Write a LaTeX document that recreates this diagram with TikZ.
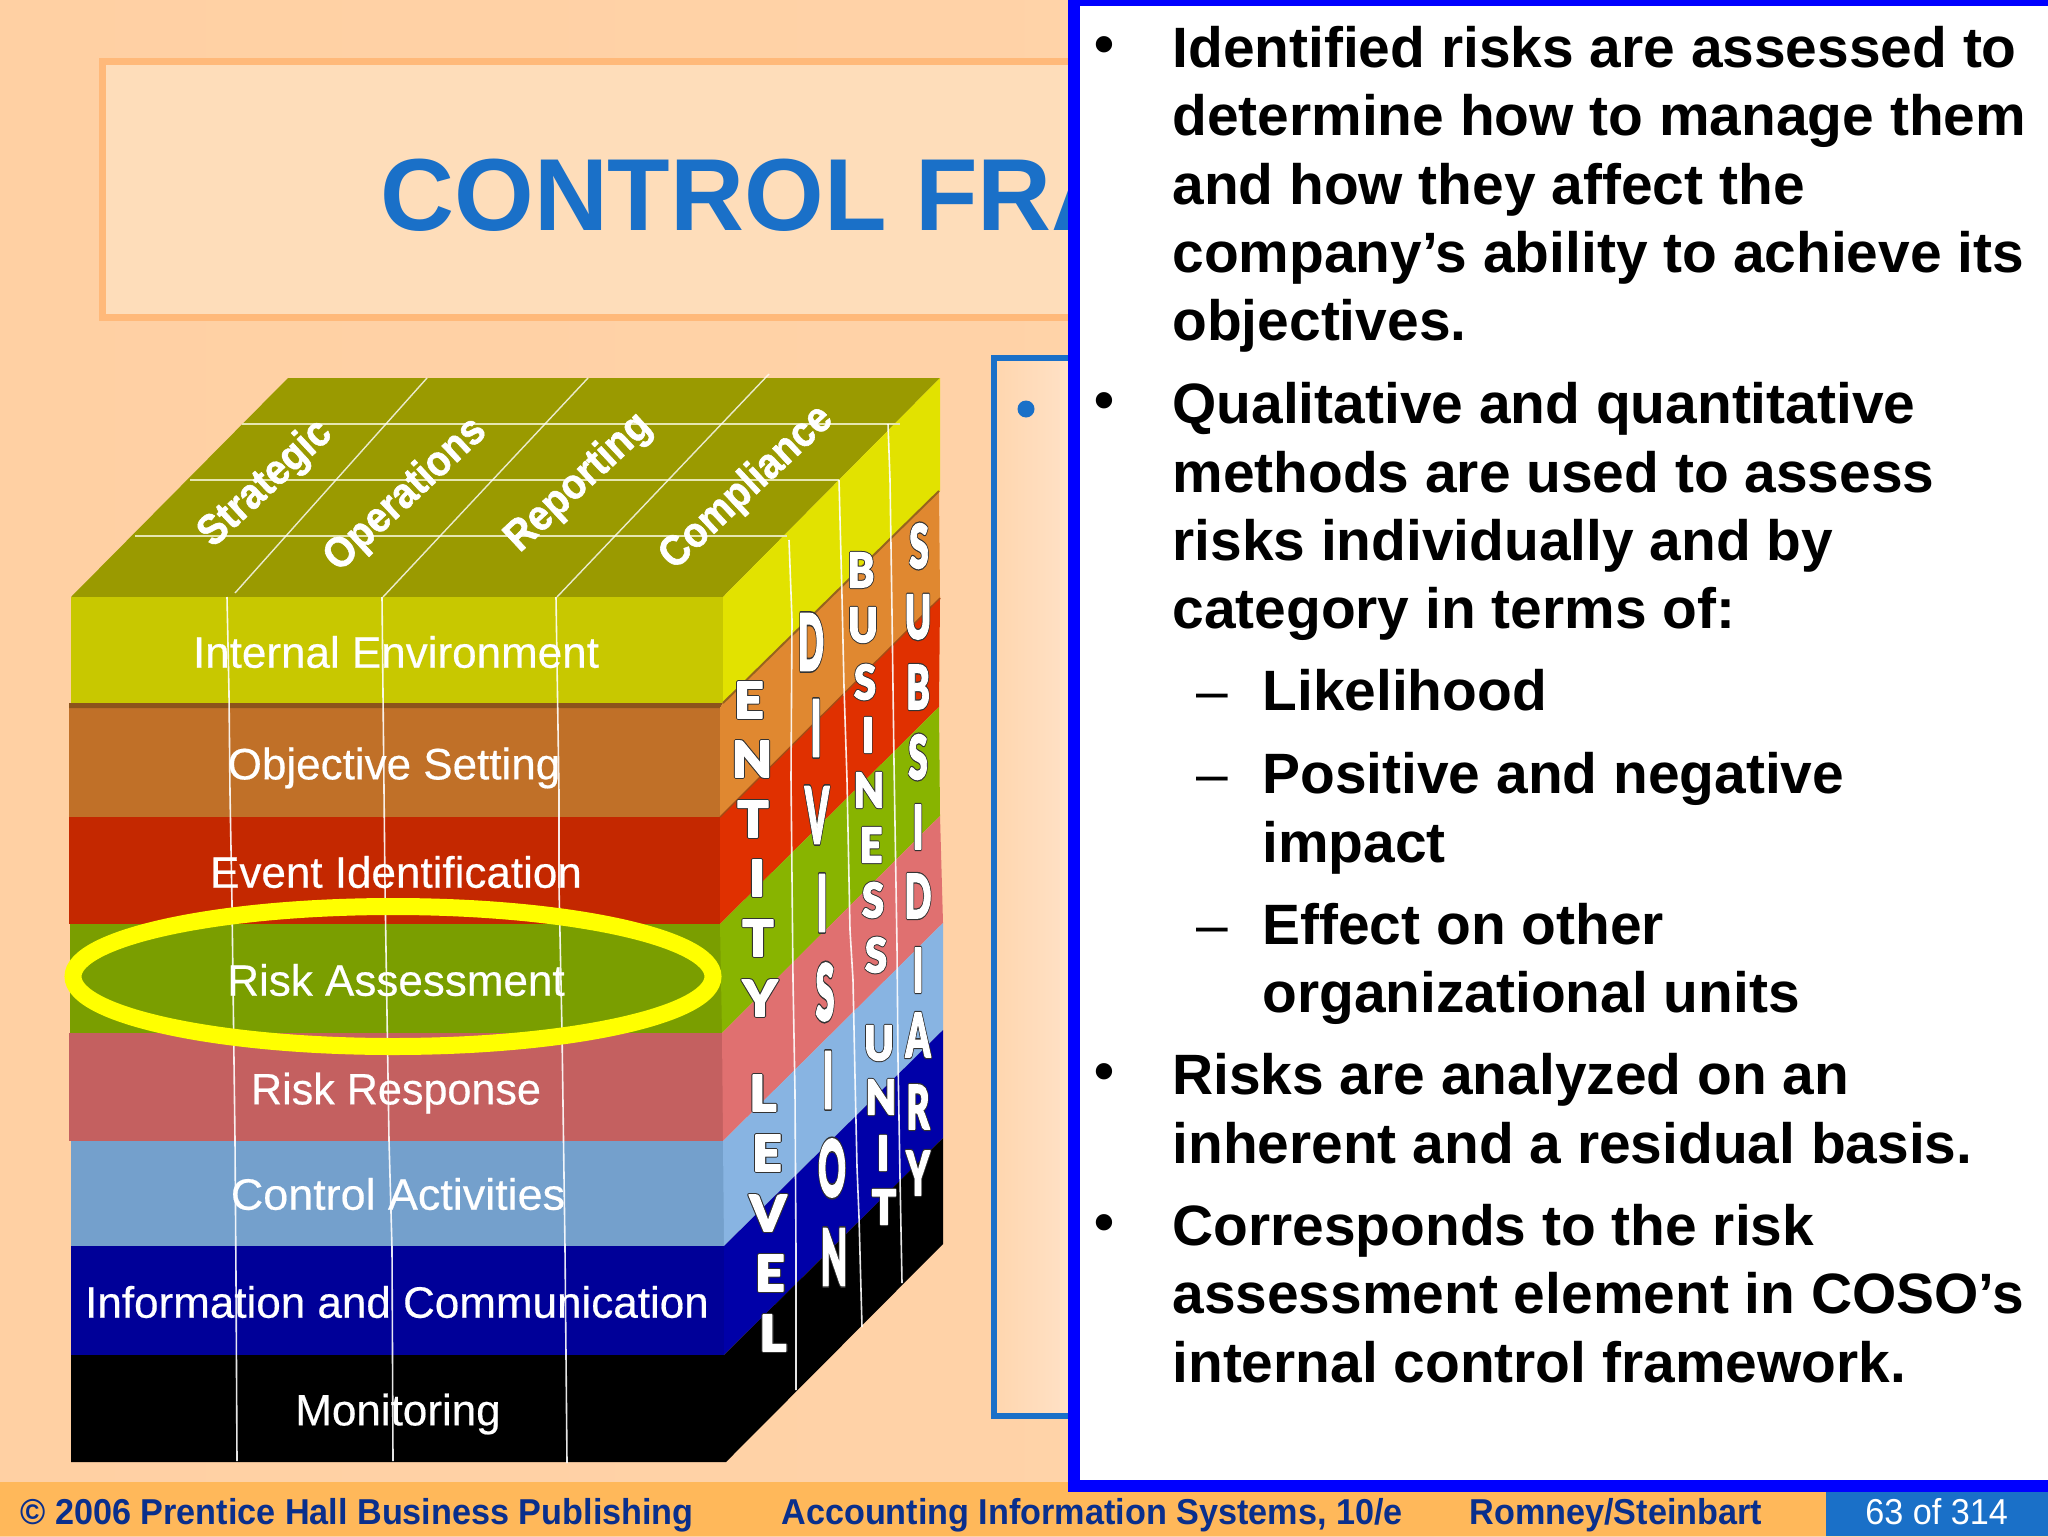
\documentclass[tikz,border=0pt]{standalone}
\usepackage{graphicx}
\usepackage{fontspec}
\setmainfont{Liberation Sans}
\newfontfamily\bandfont[FakeBold=0.4]{Liberation Sans}
\newfontfamily\letterfont{Lato Black}
\newcommand{\stroked}[1]{\rlap{\special{pdf:code 1 Tr 1.3 w 0.2 0.2 0.2 RG 1 j}#1\special{pdf:code 0 Tr}}\special{pdf:code 2 Tr 0.45 w 1 1 1 RG 1 j}#1\special{pdf:code 0 Tr}}
\newcommand{\glow}[1]{\special{pdf:code 2 Tr 0.3 w 1 1 1 RG 1 j}#1\special{pdf:code 0 Tr}}
\definecolor{bgl}{HTML}{FFD0A3}
\definecolor{bgr}{HTML}{FFD5AC}
\definecolor{titlefill}{HTML}{FEDDBA}
\definecolor{titleedge}{HTML}{FFB97A}
\definecolor{slideblue}{HTML}{1A70C8}
\definecolor{footbar}{HTML}{FFB85A}
\definecolor{foottext}{HTML}{0A2F8C}
\definecolor{topface}{HTML}{9A9A00}
\definecolor{gridc}{HTML}{E6E6B0}
\definecolor{yelF}{HTML}{C8C800}
\definecolor{yelS}{HTML}{E2E200}
\definecolor{oraF}{HTML}{C07028}
\definecolor{oraS}{HTML}{E08830}
\definecolor{oraD}{HTML}{8C541C}
\definecolor{oraL}{HTML}{96641E}
\definecolor{redF}{HTML}{C42800}
\definecolor{redS}{HTML}{E03000}
\definecolor{redL}{HTML}{A54B14}
\definecolor{grnF}{HTML}{7A9E00}
\definecolor{grnS}{HTML}{88B400}
\definecolor{pnkF}{HTML}{C46060}
\definecolor{pnkS}{HTML}{E07070}
\definecolor{bluF}{HTML}{74A0CC}
\definecolor{bluS}{HTML}{88B4E2}
\definecolor{navF}{HTML}{000098}
\definecolor{navS}{HTML}{0000A8}
\definecolor{hilite}{HTML}{FFFF00}
\definecolor{panelb}{HTML}{0000FF}
\definecolor{boxl}{HTML}{FFD6AE}
\definecolor{boxr}{HTML}{FFE2C8}
\tikzset{
  bodyline/.style={anchor=base west,inner sep=0pt,font=\bfseries\fontsize{28.45}{30}\selectfont,text=black},
  dashline/.style={anchor=base west,inner sep=0pt,font=\fontsize{28.45}{30}\selectfont,text=black},
  bandlabel/.style={inner sep=0pt,text=white,font=\bandfont\fontsize{22}{24}\selectfont},
  toplabel/.style={inner sep=0pt,text=white,rotate=43,font=\bfseries\fontsize{21}{24}\selectfont},
  footlabel/.style={anchor=base west,inner sep=0pt,text=foottext,font=\bfseries\fontsize{18}{20}\selectfont},
  letter/.style={inner sep=0pt,text=white,font=\letterfont\fontsize{20}{22}\selectfont},
  frontline/.style={draw=white,line width=0.8pt,opacity=.9},
  gridline/.style={draw=gridc,line width=1.3pt},
}
\begin{document}
\begin{tikzpicture}[x=0.5pt,y=-0.5pt]
\useasboundingbox (0,0) rectangle (2048,1536);
% background
\shade[left color=bgl,right color=bgr] (0,0) rectangle (2048,1536);
% title box
\path[fill=titlefill,draw=titleedge,line width=3.5pt] (102.5,61.5) rectangle (1200,317.5);
\node[anchor=base west,inner sep=0pt,text=slideblue,font=\bfseries\fontsize{51.2}{54}\selectfont] (title) at (380,230) {CONTROL FRA};
% second box
\shade[left color=boxl,right color=boxr] (994,358) rectangle (1075,1416);
\draw[draw=slideblue,line width=3.3pt] (994,358) rectangle (1200,1416);
\node[circle,fill=slideblue,inner sep=0pt,minimum size=8.5pt] (bluebullet) at (1026,409) {};
% top face
\fill[topface] (288,378) -- (940,378) -- (723,597) -- (71,597) -- cycle;
% bands: front then side
\fill[yelF] (71,597) -- (723,597) -- (723,703) -- (71,703) -- cycle;
\fill[yelS] (723,597) -- (940,378) -- (940,491) -- (723,703) -- cycle;
\fill[oraF] (69,707) -- (720,707) -- (720,817) -- (69,817) -- cycle;
\fill[oraD] (69,703) -- (723,703) -- (720,708) -- (69,708) -- cycle;
\fill[oraS] (720,708) -- (723,703) -- (939,491) -- (940,598) -- (720,817) -- cycle;
\draw[draw=oraL,line width=1pt] (723,703) -- (939,491);
\fill[redF] (69,817) -- (720,817) -- (720,924) -- (69,924) -- cycle;
\fill[redS] (720,817) -- (940,598) -- (939,707) -- (720,924) -- cycle;
\draw[draw=redL,line width=.7pt] (720,817) -- (940,598);
\fill[grnF] (70,924) -- (722,924) -- (722,1033) -- (70,1033) -- cycle;
\fill[grnS] (720,924) -- (939,707) -- (940,816) -- (722,1033) -- cycle;
\fill[pnkF] (69,1033) -- (723,1033) -- (723,1141) -- (69,1141) -- cycle;
\fill[pnkS] (722,1033) -- (940,816) -- (943,923) -- (723,1141) -- cycle;
\fill[bluF] (71,1141) -- (724,1141) -- (724,1246) -- (71,1246) -- cycle;
\fill[bluS] (723,1141) -- (943,923) -- (943,1030) -- (724,1246) -- cycle;
\fill[navF] (71,1246) -- (724,1246) -- (724,1355) -- (71,1355) -- cycle;
\fill[navS] (724,1246) -- (943,1030) -- (943,1138) -- (724,1355) -- cycle;
\fill[black] (71,1355) -- (724,1355) -- (943,1138) -- (943,1244) -- (726,1462) -- (71,1462) -- cycle;
% top grid
\draw[gridline] (135,536) -- (787,536);
\draw[gridline] (190,480) -- (839,480);
\draw[gridline] (242,424) -- (900,424);
\draw[draw=white,line width=.7pt,opacity=.8] (235,593) -- (427,378);
\draw[draw=white,line width=.7pt,opacity=.8] (383,597) -- (588,378);
\draw[draw=white,line width=.7pt,opacity=.8] (557,597) -- (769,374);
% top labels
\node[toplabel] (strategic) at (266,484) {\scalebox{.92}[1.02]{\glow{Strategic}}};
\node[toplabel] (operations) at (406,495) {\scalebox{.92}[1.02]{\glow{Operations}}};
\node[toplabel] (reporting) at (579,483) {\scalebox{.92}[1.02]{\glow{Reporting}}};
\node[toplabel] (compliance) at (747,488) {\scalebox{.92}[1.02]{\glow{Compliance}}};
% band labels
\node[bandlabel] (ie) at (396,652) {Internal Environment};
\node[bandlabel] (os) at (394,768) {Objective Setting};
\node[bandlabel] (ei) at (396,872) {Event Identification};
\node[bandlabel] (ra) at (396,980) {Risk Assessment};
\node[bandlabel] (rr) at (396,1093) {\scalebox{.98}[1]{Risk Response}};
\node[bandlabel] (ca) at (398,1194) {\scalebox{1.02}[1]{Control Activities}};
\node[bandlabel] (ic) at (397,1302) {Information and Communication};
\node[bandlabel] (mo) at (398,1414) {Monitoring};
% front verticals
\draw[frontline] (227,597) -- (229,693) -- (230,793) -- (232,903) -- (235,1140) -- (236,1278) -- (237,1461);
\draw[frontline] (382,597) -- (385,886) -- (389,1140) -- (392,1248) -- (393,1461);
\draw[frontline] (556,597) -- (559,793) -- (559,886) -- (562,1032) -- (565,1248) -- (567,1463);
% side verticals
\draw[frontline] (789,540) -- (792,620) -- (791,777) -- (793,980) -- (795,1093) -- (796,1253) -- (796,1390);
\draw[frontline] (839,480) -- (842,597) -- (844,687) -- (847,780) -- (850,930) -- (853,980) -- (855,1077) -- (857,1167) -- (859,1217) -- (862,1327);
\draw[frontline] (888,424) -- (890,480) -- (892,613) -- (894,763) -- (897,947) -- (898,1060) -- (900,1177) -- (902,1283);
% side letters
\foreach \x/\y/\t [count=\i] in {749/700/E,752/759/N,753/819/T,757/878/I,758/938/T,760/998/Y,763/1093/L,767/1153/E,768/1213/V,770/1273/E,773/1333/L}
  \node[letter] (ent\i) at (\x,\y) {\scalebox{1.3}[1.25]{\stroked{\t}}};
\foreach \x/\y/\t [count=\i] in {811/642/D,816/728/I,817/815/V,822/903/I,825/992/S,828/1080/I,832/1168/O,834/1257/N}
  \node[letter] (div\i) at (\x,\y) {\scalebox{.85}[1.95]{\stroked{\t}}};
\foreach \x/\y/\t [count=\i] in {861/570/B,863/625/U,865/682/S,868/735/I,869/790/N,871/845/E,873/900/S,876/955/S,879/1043/U,881/1097/N,883/1153/I,884/1207/T}
  \node[letter] (bus\i) at (\x,\y) {\scalebox{1}[1.2]{\stroked{\t}}};
\foreach \x/\y/\t [count=\i] in {919/546/S,918/617/U,918/687/B,918/757/S,918/827/I,918/896/D,918/970/I,918/1035/A,918/1107/R,918/1173/Y}
  \node[letter] (sub\i) at (\x,\y) {\scalebox{.88}[1.52]{\stroked{\t}}};
% highlight ellipse
\draw[draw=hilite,line width=8.5pt] (393,976.5) ellipse [x radius=320,y radius=70];
% footer
\fill[footbar] (0,1482) rectangle (2048,1536);
\fill[slideblue] (1826,1485) rectangle (2048,1536);
\node[footlabel] (f1) at (20,1524) {\scalebox{.95}[1]{© 2006 Prentice Hall Business Publishing}};
\node[footlabel] (f2) at (781,1524) {\scalebox{.95}[1]{Accounting Information Systems, 10/e}};
\node[footlabel] (f3) at (1469,1524) {\scalebox{.95}[1]{Romney/Steinbart}};
\node[anchor=base west,inner sep=0pt,text=white,font=\fontsize{18}{20}\selectfont] (f4) at (1865,1524) {\scalebox{.95}[1]{63 of 314}};
% white panel
\path[fill=white,draw=panelb,line width=6pt] (1074,0) rectangle (2060,1485.5);
% panel text
\node[bodyline] (b1) at (1094,64) {•};
\node[bodyline] (l1) at (1172,68) {Identified risks are assessed to};
\node[bodyline] (l2) at (1172,135) {determine how to manage them};
\node[bodyline] (l3) at (1172,204) {and how they affect the};
\node[bodyline] (l4) at (1172,272) {company’s ability to achieve its};
\node[bodyline] (l5) at (1172,340) {objectives.};
\node[bodyline] (b2) at (1094,419) {•};
\node[bodyline] (l6) at (1172,423) {Qualitative and quantitative};
\node[bodyline] (l7) at (1172,492) {methods are used to assess};
\node[bodyline] (l8) at (1172,560) {risks individually and by};
\node[bodyline] (l9) at (1172,628) {category in terms of:};
\node[dashline] (d1) at (1196,710) {–};
\node[bodyline] (l10) at (1262,710) {Likelihood};
\node[dashline] (d2) at (1196,793) {–};
\node[bodyline] (l11) at (1262,793) {Positive and negative};
\node[bodyline] (l12) at (1262,862) {impact};
\node[dashline] (d3) at (1196,944) {–};
\node[bodyline] (l13) at (1262,944) {Effect on other};
\node[bodyline] (l14) at (1262,1012) {organizational units};
\node[bodyline] (b3) at (1094,1090) {•};
\node[bodyline] (l15) at (1172,1094) {Risks are analyzed on an};
\node[bodyline] (l16) at (1172,1163) {inherent and a residual basis.};
\node[bodyline] (b4) at (1094,1241) {•};
\node[bodyline] (l17) at (1172,1245) {Corresponds to the risk};
\node[bodyline] (l18) at (1172,1313) {assessment element in COSO’s};
\node[bodyline] (l19) at (1172,1382) {internal control framework.};
\end{tikzpicture}
\end{document}
